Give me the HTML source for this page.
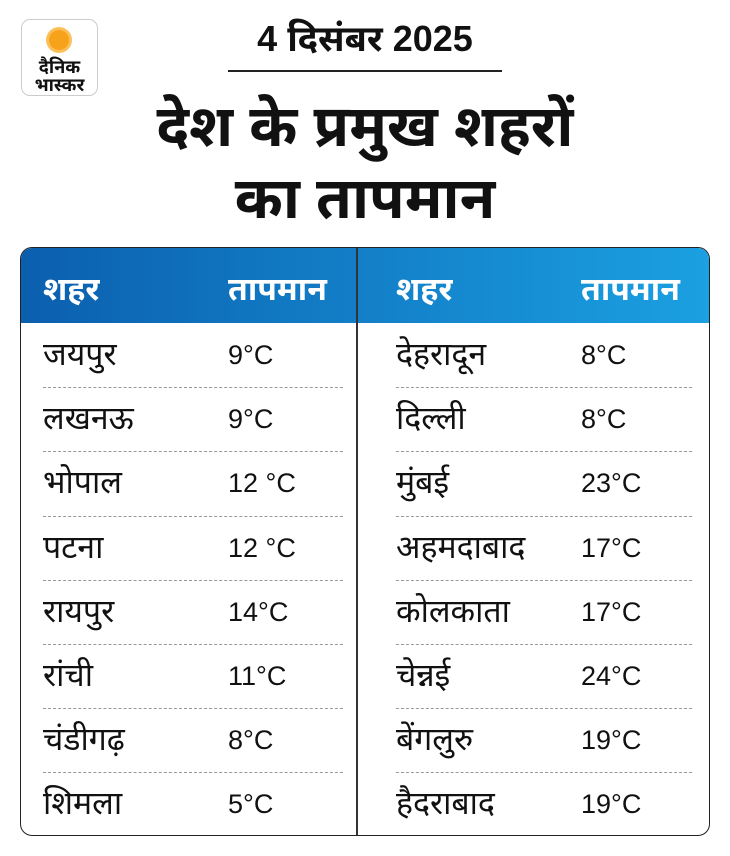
<!DOCTYPE html>
<html><head><meta charset="utf-8"><style>
body{margin:0;width:730px;height:856px;background:#fff;font-family:"Liberation Sans","Noto Sans Devanagari","Lohit Devanagari",sans-serif;position:relative;overflow:hidden;color:#111}
.logo{position:absolute;left:21px;top:19px;width:75px;height:75px;border:1px solid #ccc;border-radius:9px;text-align:center}
.sun{position:absolute;left:27px;top:10px;width:20px;height:20px;border-radius:50%;background:#f7a21b;box-shadow:0 0 0 3px #fbc05a}
.lt{position:absolute;left:0;width:75px;font-weight:bold;font-size:18px;line-height:18px;top:38px;color:#111}
.date{position:absolute;top:18px;left:0;width:730px;text-align:center;font-size:36px;font-weight:bold}
.ul{position:absolute;left:228px;top:70px;width:274px;height:2px;background:#222}
.title{position:absolute;top:91px;left:0;width:730px;text-align:center;font-size:58px;font-weight:bold;line-height:72px}
.tbl{position:absolute;left:20px;top:247px;width:688px;height:587px;border:1.5px solid #222;border-radius:12px;overflow:hidden}
.hdr{position:absolute;left:0;top:0;width:100%;height:75px;background:linear-gradient(90deg,#0b5fae,#1ba0e2)}
.vd{position:absolute;left:335px;top:0;width:1.5px;height:100%;background:#333}
.t{position:absolute;font-size:27px;line-height:30px}
.d{font-size:32px}
.h{color:#fff;font-weight:bold;font-size:32px}
.sep{position:absolute;height:0;border-top:1px dashed #999}
</style></head><body>
<div class="logo"><div class="sun"></div><div class="lt">दैनिक<br>भास्कर</div></div>
<div class="date">4 दिसंबर 2025</div>
<div class="ul"></div>
<div class="title">देश के प्रमुख शहरों<br>का तापमान</div>
<div class="tbl">
<div class="hdr"></div><div class="vd"></div>
<div class="t h" style="left:22px;top:26px">शहर</div>
<div class="t h" style="left:207px;top:26px">तापमान</div>
<div class="t h" style="left:375px;top:26px">शहर</div>
<div class="t h" style="left:560px;top:26px">तापमान</div>
<div id="rows"></div>
</div>
<script>
var L=[["जयपुर","9°C"],["लखनऊ","9°C"],["भोपाल","12 °C"],["पटना","12 °C"],["रायपुर","14°C"],["रांची","11°C"],["चंडीगढ़","8°C"],["शिमला","5°C"]];
var R=[["देहरादून","8°C"],["दिल्ली","8°C"],["मुंबई","23°C"],["अहमदाबाद","17°C"],["कोलकाता","17°C"],["चेन्नई","24°C"],["बेंगलुरु","19°C"],["हैदराबाद","19°C"]];
var h="";
for(var i=0;i<8;i++){var y=75+i*64.2+17;
h+='<div class="t d" style="left:22px;top:'+(y-1)+'px">'+L[i][0]+'</div><div class="t" style="left:207px;top:'+y+'px">'+L[i][1]+'</div>';
h+='<div class="t d" style="left:375px;top:'+(y-1)+'px">'+R[i][0]+'</div><div class="t" style="left:560px;top:'+y+'px">'+R[i][1]+'</div>';
if(i<7){var s=75+(i+1)*64.2;h+='<div class="sep" style="left:22px;width:300px;top:'+s+'px"></div><div class="sep" style="left:375px;width:296px;top:'+s+'px"></div>';}}
document.getElementById("rows").innerHTML=h;
</script>
</body></html>
